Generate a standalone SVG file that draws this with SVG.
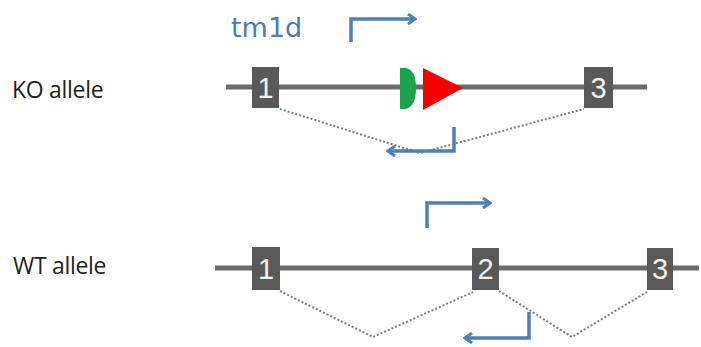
<svg xmlns="http://www.w3.org/2000/svg" width="701" height="347" viewBox="0 0 701 347">
  <defs>
    <style>
      .label { font-family: "Open Sans", "Noto Sans", "DejaVu Sans", sans-serif; font-size: 23px; fill: #222; letter-spacing: -0.3px; }
      .tag { font-family: "DejaVu Sans", "Noto Sans", sans-serif; font-size: 27px; fill: #4a7db6; }
      .backbone { stroke: #6b6b6b; stroke-width: 5; fill: none; }
      .exon rect { fill: #595959; }
      .exon text { font-family: "Liberation Sans", "DejaVu Sans", sans-serif; font-size: 29px; fill: #f2f2f2; text-anchor: middle; }
      .splice { stroke: #7d7d7d; stroke-width: 2; stroke-dasharray: 2 2; fill: none; }
      .promoter { stroke: #4f7fb8; stroke-width: 3.5; fill: none; stroke-linejoin: miter; }
    </style>
    <marker id="chevron" viewBox="0 0 10 12" refX="8" refY="6" markerWidth="10" markerHeight="12" markerUnits="userSpaceOnUse" orient="auto">
      <path d="M1,1 L8,6 L1,11" fill="none" stroke="#4f7fb8" stroke-width="3"/>
    </marker>
  </defs>

  <rect width="701" height="347" fill="#ffffff"/>

  <!-- allele labels -->
  <text class="label" x="12" y="98">KO allele</text>
  <text class="label" x="13" y="274">WT allele</text>
  <text class="tag" x="231" y="37">tm1d</text>

  <!-- backbones -->
  <line class="backbone" x1="226" y1="87" x2="647" y2="87"/>
  <line class="backbone" x1="215" y1="268" x2="699" y2="268"/>

  <!-- connectors: splicing and transcription -->
  <g id="connectors">
    <polyline class="splice" points="280,109 420,153 584,109"/>
    <polyline class="splice" points="280,291 373,337 473,292"/>
    <polyline class="splice" points="499,291 572,337 647,292"/>

    <polyline class="promoter" points="351,42 351,19 415,19" marker-end="url(#chevron)"/>
    <polyline class="promoter" points="454,127 454,151 388,151" marker-end="url(#chevron)"/>
    <polyline class="promoter" points="427,228 427,203 490,203" marker-end="url(#chevron)"/>
    <polyline class="promoter" points="529,312 529,338 465,338" marker-end="url(#chevron)"/>
  </g>

  <!-- KO allele features -->
  <g id="ko-exon1" class="exon">
    <rect x="252" y="67" width="27" height="41"/>
    <text x="265.5" y="98">1</text>
  </g>
  <g id="ko-frt">
    <path d="M400,68 L406,68 Q416,70 416,88 Q416,106 406,109 L400,109 Z" fill="#1aa34a"/>
  </g>
  <g id="ko-loxp">
    <path d="M423,68 L463,88 L423,110 Z" fill="#f40000"/>
  </g>
  <g id="ko-exon3" class="exon">
    <rect x="584" y="67" width="29" height="41"/>
    <text x="598.5" y="98">3</text>
  </g>

  <!-- WT allele exons -->
  <g id="wt-exon1" class="exon">
    <rect x="252" y="247" width="28" height="43"/>
    <text x="266" y="279">1</text>
  </g>
  <g id="wt-exon2" class="exon">
    <rect x="472" y="248" width="27" height="42"/>
    <text x="485.5" y="279">2</text>
  </g>
  <g id="wt-exon3" class="exon">
    <rect x="647" y="248" width="26" height="42"/>
    <text x="660" y="279">3</text>
  </g>
</svg>
